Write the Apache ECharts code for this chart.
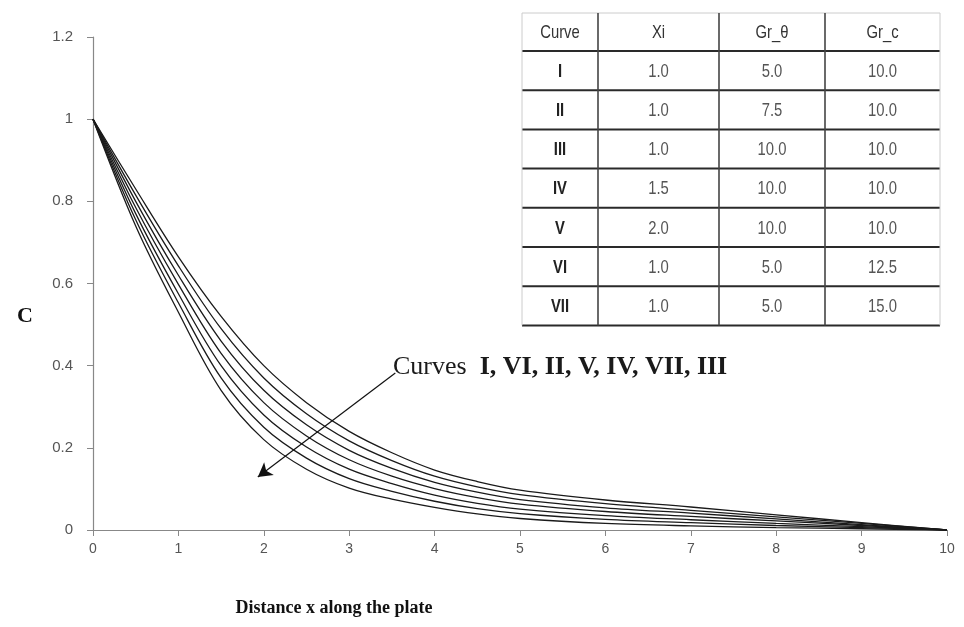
<!DOCTYPE html>
<html>
<head>
<meta charset="utf-8">
<script src="https://cdn.jsdelivr.net/npm/echarts@6/dist/echarts.min.js"></script>
<style>html,body{margin:0;padding:0;background:#fff}#c{width:964px;height:627px}</style>
</head>
<body>
<div id="c"></div>
<script>
var xs = [0, 0.5, 1, 1.5, 2, 2.5, 3, 3.5, 4, 4.5, 5, 6, 7, 8, 9, 10];
var curveI   = [1, 0.830, 0.665, 0.520, 0.400, 0.310, 0.240, 0.188, 0.146, 0.118, 0.097, 0.073, 0.056, 0.037, 0.018, 0];
var curveVI  = [1, 0.815, 0.643, 0.490, 0.370, 0.283, 0.217, 0.169, 0.131, 0.105, 0.086, 0.064, 0.048, 0.032, 0.016, 0];
var curveII  = [1, 0.800, 0.620, 0.460, 0.340, 0.256, 0.194, 0.150, 0.116, 0.092, 0.074, 0.054, 0.041, 0.027, 0.013, 0];
var curveV   = [1, 0.785, 0.598, 0.430, 0.310, 0.229, 0.171, 0.131, 0.101, 0.079, 0.063, 0.045, 0.033, 0.022, 0.011, 0];
var curveIV  = [1, 0.770, 0.575, 0.400, 0.280, 0.202, 0.148, 0.113, 0.085, 0.065, 0.051, 0.035, 0.025, 0.016, 0.008, 0];
var curveVII = [1, 0.755, 0.553, 0.370, 0.250, 0.175, 0.125, 0.094, 0.070, 0.052, 0.040, 0.026, 0.018, 0.011, 0.006, 0];
var curveIII = [1, 0.740, 0.530, 0.340, 0.220, 0.148, 0.102, 0.075, 0.055, 0.039, 0.028, 0.016, 0.010, 0.006, 0.003, 0];

var seriesNames = ['I', 'VI', 'II', 'V', 'IV', 'VII', 'III'];
var seriesData = [curveI, curveVI, curveII, curveV, curveIV, curveVII, curveIII];

var tableHeader = ['Curve', 'Xi', 'Gr_\u03b8', 'Gr_c'];
var tableCurve = ['I', 'II', 'III', 'IV', 'V', 'VI', 'VII'];
var tableXi = ['1.0', '1.0', '1.0', '1.5', '2.0', '1.0', '1.0'];
var tableGrT = ['5.0', '7.5', '10.0', '10.0', '10.0', '5.0', '5.0'];
var tableGrC = ['10.0', '10.0', '10.0', '10.0', '10.0', '12.5', '15.0'];

var annotationWord = 'Curves';
var annotationList = 'I, VI, II, V, IV, VII, III';
var yAxisTitle = 'C';
var xAxisTitle = 'Distance x along the plate';
var arrowFrom = [3.54, 0.382];
var arrowTo = [1.93, 0.129];

var chart = echarts.init(document.getElementById('c'), null, {renderer: 'canvas'});

var series = seriesData.map(function (d, i) {
  return {
    name: seriesNames[i],
    type: 'line',
    smooth: 0.35,
    symbol: 'none',
    lineStyle: {color: '#1a1a1a', width: 1.3},
    data: xs.map(function (x, j) { return [x, d[j]]; }),
    z: 3
  };
});
series[0].markLine = {
  silent: true,
  symbol: ['none', 'arrow'],
  symbolSize: [12, 14],
  lineStyle: {color: '#111', width: 1.2, type: 'solid'},
  label: {show: false},
  data: [[{coord: arrowFrom}, {coord: arrowTo}]]
};

// table graphics
var colX = [522, 598, 719, 825, 940];
var tTop = 13, headH = 38, rowH = 39.2;
var g = [];
var rowsY = [tTop, tTop + headH];
for (var r = 1; r <= tableCurve.length; r++) rowsY.push(tTop + headH + r * rowH);
g.push({type: 'rect', shape: {x: colX[0], y: tTop, width: colX[4] - colX[0], height: rowsY[rowsY.length - 1] - tTop}, style: {fill: '#fff', stroke: null}, z: 10});
rowsY.forEach(function (y, i) {
  g.push({type: 'line', shape: {x1: colX[0], y1: y, x2: colX[4], y2: y}, style: {stroke: i === 0 ? '#ccc' : '#2a2a2a', lineWidth: i === 0 ? 1 : 2}, z: 11});
});
colX.forEach(function (x, i) {
  g.push({type: 'line', shape: {x1: x, y1: tTop, x2: x, y2: rowsY[rowsY.length - 1]}, style: {stroke: (i === 0 || i === 4) ? '#ccc' : '#444', lineWidth: (i === 0 || i === 4) ? 1 : 1.6}, z: 11});
});
var cols = [tableCurve, tableXi, tableGrT, tableGrC];
var fontFam = '"Liberation Sans", "Open Sans", sans-serif';
tableHeader.forEach(function (h, c) {
  g.push({type: 'text', x: (colX[c] + colX[c + 1]) / 2, y: tTop + headH / 2 + 1, scaleX: 0.78,
    style: {text: h, fill: '#333', font: '19px ' + fontFam, textAlign: 'center', textVerticalAlign: 'middle'}, z: 12});
});
cols.forEach(function (col, c) {
  col.forEach(function (v, r) {
    g.push({type: 'text', x: (colX[c] + colX[c + 1]) / 2, y: rowsY[r + 1] + rowH / 2 + 1, scaleX: 0.78,
      style: {text: v, fill: c === 0 ? '#222' : '#555', font: (c === 0 ? 'bold ' : '') + '19px ' + fontFam, textAlign: 'center', textVerticalAlign: 'middle'}, z: 12});
  });
});
g.push({type: 'text', x: 393, y: 367,
  style: {rich: {
      a: {fontFamily: '"Liberation Serif", "DejaVu Serif", serif', fontSize: 26, fill: '#1a1a1a'},
      b: {fontFamily: '"Liberation Serif", "DejaVu Serif", serif', fontSize: 26, fill: '#1a1a1a', fontWeight: 'bold'}},
    text: '{a|' + annotationWord + '}{b|  ' + annotationList + '}', textAlign: 'left', textVerticalAlign: 'middle'}, z: 12});
g.push({type: 'text', x: 25, y: 316,
  style: {text: yAxisTitle, font: 'bold 22px "Liberation Serif", serif', fill: '#111', textAlign: 'center', textVerticalAlign: 'middle'}, z: 12});

var labelFont = '"Liberation Sans", "Open Sans", sans-serif';
chart.setOption({
  animation: false,
  backgroundColor: '#fff',
  grid: {left: 93, right: 17, top: 37, bottom: 97},
  xAxis: {
    type: 'value', min: 0, max: 10, interval: 1,
    name: xAxisTitle, nameLocation: 'middle', nameGap: 69,
    nameTextStyle: {fontFamily: '"Liberation Serif", serif', fontSize: 18, fontWeight: 'bold', color: '#111', padding: [0, 0, 0, -372]},
    axisLine: {lineStyle: {color: '#888', width: 1.2}},
    axisTick: {show: true, length: 6, lineStyle: {color: '#888'}},
    axisLabel: {color: '#555', fontSize: 14, margin: 12, fontFamily: labelFont},
    splitLine: {show: false}
  },
  yAxis: {
    type: 'value', min: 0, max: 1.2, interval: 0.2,
    axisLine: {show: true, lineStyle: {color: '#888', width: 1.2}},
    axisTick: {show: true, length: 6, lineStyle: {color: '#888'}},
    axisLabel: {color: '#555', fontSize: 15, margin: 20, fontFamily: labelFont,
      formatter: function (v) { return String(Math.round(v * 10) / 10); }},
    splitLine: {show: false}
  },
  series: series,
  graphic: g
});
</script>
</body>
</html>
